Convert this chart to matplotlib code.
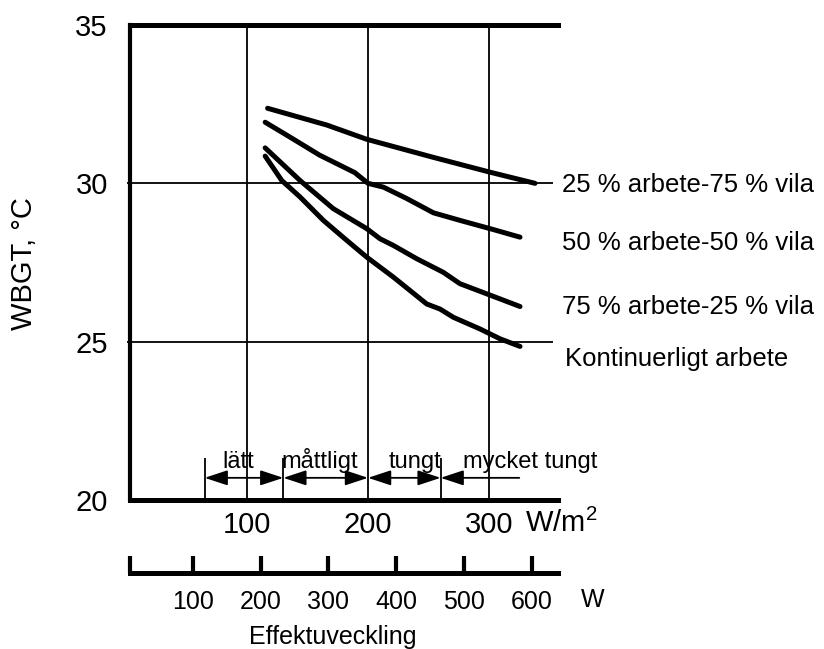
import matplotlib
matplotlib.use("Agg")
import matplotlib.pyplot as plt
from matplotlib.patches import ArrowStyle

plt.rcParams['font.family'] = ['Liberation Sans', 'DejaVu Sans']
plt.rcParams['mathtext.fontset'] = 'custom'
plt.rcParams['mathtext.rm'] = 'Liberation Sans'

# kurvor, x i W/m2, y i WBGT (grader C)
x_25 = [117, 166, 199, 254, 301, 338]
y_25 = [32.37, 31.84, 31.39, 30.82, 30.35, 30.0]

x_50 = [115, 135.5, 160, 189, 200, 212.7, 232, 254, 276, 303.6, 325.6]
y_50 = [31.93, 31.46, 30.89, 30.34, 30.0, 29.88, 29.52, 29.07, 28.83, 28.54, 28.30]

x_75 = [115, 143.8, 171.3, 198.9, 209.9, 220.9, 240.2, 262.2, 276, 298.1, 325.6]
y_75 = [31.12, 30.09, 29.20, 28.57, 28.25, 28.04, 27.62, 27.19, 26.83, 26.51, 26.11]

x_kont = [115, 128.7, 143.8, 163.1, 182.4, 198.9, 220.9, 248.5, 259.5, 270.5, 292.6, 309.1, 325.6]
y_kont = [30.86, 30.09, 29.57, 28.83, 28.20, 27.67, 27.04, 26.19, 26.03, 25.77, 25.40, 25.09, 24.85]

curve_labels = ['25 % arbete-75 % vila', '50 % arbete-50 % vila',
                '75 % arbete-25 % vila', 'Kontinuerligt arbete']
label_y = [29.94, 28.13, 26.08, 24.46]

# arbetsklasser (W/m2)
band_edges = [65, 130, 200, 260, 325]
band_names = ['lätt', 'måttligt', 'tungt', 'mycket tungt']
band_text_x = [93, 160, 239, 334]

xticks_m2 = [100, 200, 300]
yticks = [20, 25, 30, 35]
w_ticks = [100, 200, 300, 400, 500, 600]

fig = plt.figure(figsize=(8.24, 6.49), dpi=100)
W, H = 824, 649
ax = fig.add_axes([130 / W, 1 - 500 / H, 428 / W, 475 / H])
ax.set_xlim(3.3, 357)
ax.set_ylim(20, 35)

# rutnät
ax.vlines(xticks_m2, 20, 35, color='black', lw=1.3)
ax.hlines([30, 25], 0.8, 353, color='black', lw=1.3, clip_on=False)

for xs, ys in [(x_25, y_25), (x_50, y_50), (x_75, y_75), (x_kont, y_kont)]:
    ax.plot(xs, ys, color='black', lw=3.6, solid_capstyle='round', solid_joinstyle='round')

for txt, yy in zip(curve_labels, label_y):
    xx = 362.5 if txt.startswith('Kont') else 360
    ax.text(xx, yy, txt, fontsize=18.5, va='center', ha='left', clip_on=False)

# pilar for arbetsklasser
arrow_y = 20.70
ax.vlines([band_edges[0], band_edges[1], band_edges[3]], 20, 21.33, color='black', lw=1.3)
both = ArrowStyle('<|-|>', head_length=1.0, head_width=0.33)
one = ArrowStyle('-|>', head_length=1.0, head_width=0.33)
for i in range(4):
    style = both if i < 3 else one
    ax.annotate('', xy=(band_edges[i], arrow_y), xytext=(band_edges[i + 1], arrow_y),
                arrowprops=dict(arrowstyle=style, color='black', lw=1.3,
                                mutation_scale=14, shrinkA=0, shrinkB=0))
    ax.text(band_text_x[i], 21.0, band_names[i], fontsize=17, ha='center', va='baseline')

ax.spines['right'].set_visible(False)
ax.spines['left'].set_linewidth(3.0)
ax.spines['top'].set_linewidth(3.6)
ax.spines['bottom'].set_linewidth(3.6)
ax.set_xticks(xticks_m2)
ax.set_yticks(yticks)
ax.tick_params(axis='y', length=0, pad=16, labelsize=21)
ax.tick_params(axis='x', length=0, pad=8, labelsize=21)
fig.text(525 / W, 1 - 523 / H, 'W/m$^{2}$', fontsize=21, ha='left', va='center')
fig.text(24 / W, 1 - 264 / H, 'WBGT, °C', fontsize=21, rotation=90, ha='center', va='center')

# skala i W
ax2 = fig.add_axes([130 / W, 1 - 573 / H, 428 / W, 0.001])
ax2.set_xlim(7.4, 638.6)
for s in ['top', 'left', 'right']:
    ax2.spines[s].set_visible(False)
ax2.spines['bottom'].set_linewidth(3.6)
ax2.set_yticks([])
ax2.set_xticks([7.4] + w_ticks)
ax2.set_xticklabels([''] + [str(t) for t in w_ticks])
ax2.tick_params(axis='x', direction='in', length=12, width=3, pad=12, labelsize=18)
ax2.patch.set_visible(False)
fig.text(593 / W, 1 - 600 / H, 'W', fontsize=18, ha='center', va='center')
fig.text(333 / W, 1 - 637 / H, 'Effektuveckling', fontsize=18, ha='center', va='center')

fig.savefig('out.png', dpi=100)
